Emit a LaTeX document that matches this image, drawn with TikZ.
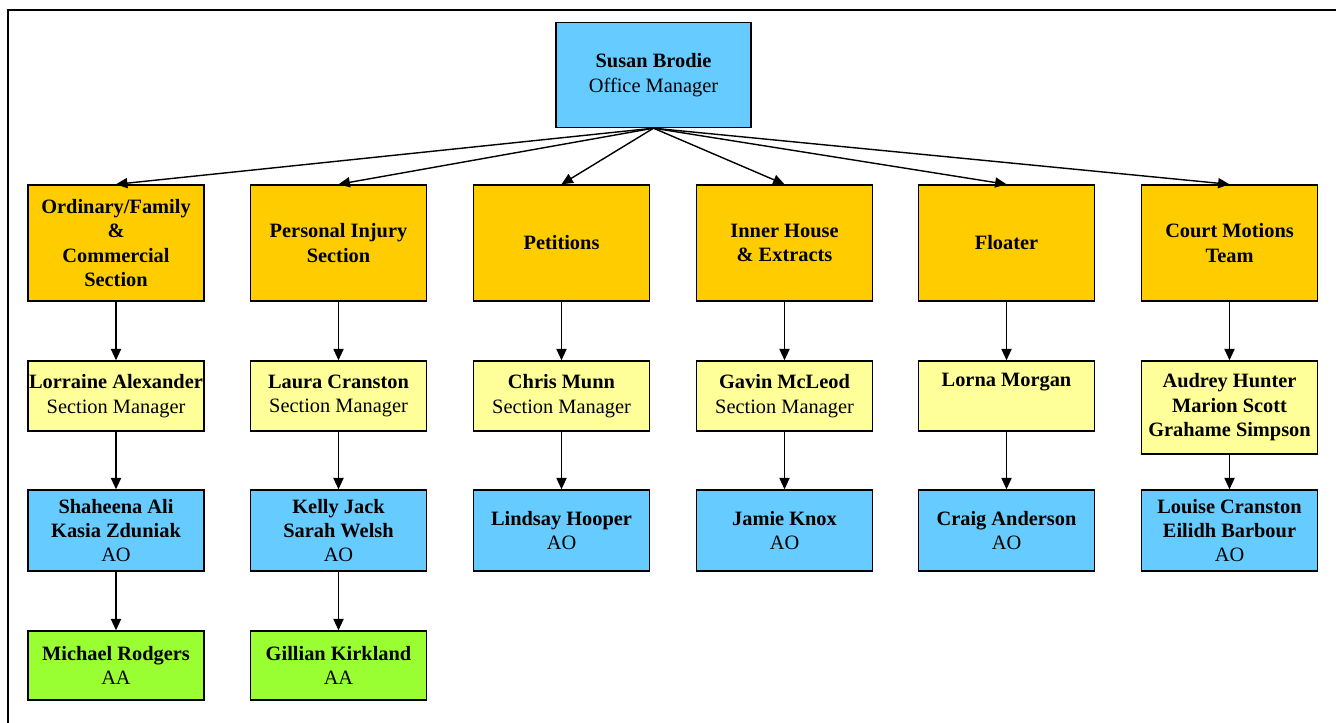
\documentclass[tikz,border=0pt]{standalone}
\usepackage{fontspec}
\setmainfont{Liberation Serif}
\definecolor{sec_orange}{RGB}{255, 204, 0}
\definecolor{mgr_yellow}{RGB}{255, 255, 153}
\definecolor{ao_blue}{RGB}{102, 204, 255}
\definecolor{aa_green}{RGB}{153, 255, 51}
\usetikzlibrary{arrows.meta, positioning}

\begin{document}
\begin{tikzpicture}[x=0.02cm, y=-0.02cm,
    unit/.style={draw=black, line width=0.8pt, align=center, inner sep=0pt,
                 minimum width=3.52cm, font=\fontsize{11.6}{13.9}\selectfont},
    section/.style={unit, fill=sec_orange, minimum height=2.32cm},
    manager/.style={unit, fill=mgr_yellow, minimum height=1.4cm},
    officer/.style={unit, fill=ao_blue, minimum height=1.62cm},
    assistant/.style={unit, fill=aa_green, minimum height=1.38cm},
    link/.style={-{Triangle[length=6.5pt, width=5.8pt]}, line width=0.8pt}]
  \useasboundingbox (0,0) rectangle (1336,723);
  \draw[line width=1.1pt] (8,10) rectangle (1350,740);

  % head of office
  \node[unit, fill=ao_blue, minimum width=3.9cm, minimum height=2.1cm]
    (susan) at (653.5,75) {\textbf{Susan Brodie}\\Office Manager};

  % sections
  \node[section] (ordinary) at (116,243)
    {\textbf{Ordinary/Family}\\\textbf{\&}\\\textbf{Commercial}\\\textbf{Section}};
  \node[section] (injury) at (338.5,243) {\textbf{Personal Injury}\\\textbf{Section}};
  \node[section] (petitions) at (561.5,243) {\textbf{Petitions}};
  \node[section] (inner) at (784.5,243) {\textbf{Inner House}\\\textbf{\& Extracts}};
  \node[section] (floater) at (1006.5,243) {\textbf{Floater}};
  \node[section] (motions) at (1229.5,243) {\textbf{Court Motions}\\\textbf{Team}};

  % section managers
  \node[manager] (lorraine) at (116,396) {\textbf{Lorraine Alexander}\\Section Manager};
  \node[manager] (laura) at (338.5,396) {\textbf{Laura Cranston}\\Section Manager};
  \node[manager] (chris) at (561.5,396) {\textbf{Chris Munn}\\Section Manager};
  \node[manager] (gavin) at (784.5,396) {\textbf{Gavin McLeod}\\Section Manager};
  \node[manager] (lorna) at (1006.5,396) {\textbf{Lorna Morgan}\\\strut};
  \node[manager, minimum height=1.86cm] (audrey) at (1229.5,407.5)
    {\textbf{Audrey Hunter}\\\textbf{Marion Scott}\\\textbf{Grahame Simpson}};

  % administrative officers
  \node[officer] (shaheena) at (116,530.5) {\textbf{Shaheena Ali}\\\textbf{Kasia Zduniak}\\AO};
  \node[officer] (kelly) at (338.5,530.5) {\textbf{Kelly Jack}\\\textbf{Sarah Welsh}\\AO};
  \node[officer] (lindsay) at (561.5,530.5) {\textbf{Lindsay Hooper}\\AO};
  \node[officer] (jamie) at (784.5,530.5) {\textbf{Jamie Knox}\\AO};
  \node[officer] (craig) at (1006.5,530.5) {\textbf{Craig Anderson}\\AO};
  \node[officer] (louise) at (1229.5,530.5) {\textbf{Louise Cranston}\\\textbf{Eilidh Barbour}\\AO};

  % administrative assistants
  \node[assistant] (michael) at (116,665.5) {\textbf{Michael Rodgers}\\AA};
  \node[assistant] (gillian) at (338.5,665.5) {\textbf{Gillian Kirkland}\\AA};

  \foreach \s in {ordinary, injury, petitions, inner, floater, motions}
    \draw[link] (susan.south) -- (\s.north);
  \draw[link] (ordinary) -- (lorraine);
  \draw[link] (injury) -- (laura);
  \draw[link] (petitions) -- (chris);
  \draw[link] (inner) -- (gavin);
  \draw[link] (floater) -- (lorna);
  \draw[link] (motions) -- (audrey);
  \draw[link] (lorraine) -- (shaheena);
  \draw[link] (laura) -- (kelly);
  \draw[link] (chris) -- (lindsay);
  \draw[link] (gavin) -- (jamie);
  \draw[link] (lorna) -- (craig);
  \draw[link] (audrey) -- (louise);
  \draw[link] (shaheena) -- (michael);
  \draw[link] (kelly) -- (gillian);
\end{tikzpicture}
\end{document}
